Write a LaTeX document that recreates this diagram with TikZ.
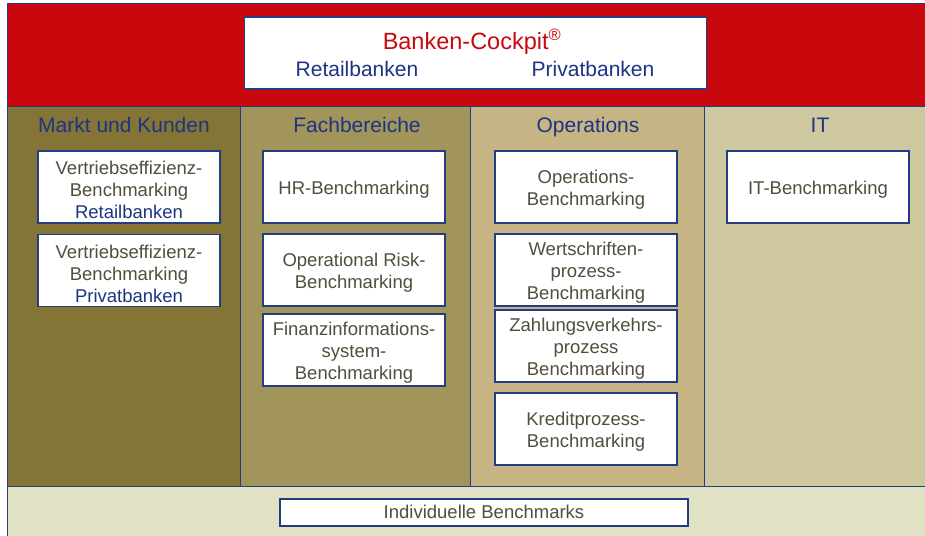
\documentclass[tikz,border=0pt]{standalone}
\usepackage{fontspec}
\setmainfont{Liberation Sans}
\definecolor{bred}{RGB}{200,8,12}
\definecolor{cola}{RGB}{132,117,55}
\definecolor{colb}{RGB}{161,149,92}
\definecolor{colc}{RGB}{199,180,132}
\definecolor{cold}{RGB}{205,200,160}
\definecolor{cole}{RGB}{225,225,195}
\definecolor{navy}{RGB}{28,52,130}
\definecolor{btext}{RGB}{82,78,60}
\definecolor{bline}{RGB}{35,60,130}
\tikzset{
  frame/.style={draw=bline, line width=0.9pt},
  box/.style={draw=bline, line width=1.1pt, fill=white, minimum width=182pt, minimum height=72pt, inner sep=0pt},
  btxt/.style={align=center, text=btext, inner sep=0pt, font=\fontsize{18.5}{22}\selectfont},
  head/.style={text=navy, font=\fontsize{21}{24}\selectfont, inner sep=0pt, anchor=base},
}
\newcommand\bxnode[3]{\node[box] (#1) at (#2) {};\node[btxt] (#1t) at ([yshift=-3pt]#1.center) {#3};}
\begin{document}
\begin{tikzpicture}[x=1pt,y=-1pt]
\useasboundingbox (0,0) rectangle (925,535);
% bands
\fill[bred] (7,3) rectangle (926,106);
\fill[cola] (7,106) rectangle (240,486);
\fill[colb] (240,106) rectangle (470,486);
\fill[colc] (470,106) rectangle (704,486);
\fill[cold] (704,106) rectangle (926,486);
\fill[cole] (7,486) rectangle (926,536);
\draw[frame] (7,536) -- (7,3) -- (926,3);
\draw[frame] (7,106) -- (926,106);
\draw[frame] (7,486) -- (926,486);
\draw[frame] (240,106) -- (240,486);
\draw[frame] (470,106) -- (470,486);
\draw[frame] (704,106) -- (704,486);
% top box
\node[box, minimum width=462pt, minimum height=72pt] (top) at (475.5,53) {};
\node[text=bred, font=\fontsize{23.5}{26}\selectfont, inner sep=0pt, anchor=base] (title) at (472,49.5) {Banken-Cockpit\textsuperscript{®}};
\node[head] (retail) at (357,76) {Retailbanken};
\node[head] (privat) at (593,76) {Privatbanken};
% headers
\node[head] (h1) at (124,132) {Markt und Kunden};
\node[head] (h2) at (357,132) {Fachbereiche};
\node[head] (h3) at (588,132) {Operations};
\node[head] (h4) at (820,132) {IT};
% column 1
\bxnode{v1}{129,187}{Vertriebseffizienz-\\Benchmarking\\\textcolor{navy}{Retailbanken}}
\bxnode{v2}{129,270.5}{Vertriebseffizienz-\\Benchmarking\\\textcolor{navy}{Privatbanken}}
% column 2
\bxnode{hr}{354,187}{HR-Benchmarking}
\bxnode{risk}{354,270}{Operational Risk-\\Benchmarking}
\bxnode{fin}{354,350}{Finanzinformations-\\system-\\Benchmarking}
% column 3
\bxnode{ops}{586,187}{Operations-\\Benchmarking}
\bxnode{wert}{586,270}{Wertschriften-\\prozess-\\Benchmarking}
\bxnode{zahl}{586,346}{Zahlungsverkehrs-\\prozess\\Benchmarking}
\bxnode{kred}{586,429}{Kreditprozess-\\Benchmarking}
% column 4
\bxnode{it}{818,187}{IT-Benchmarking}
% bottom
\node[box, minimum width=408pt, minimum height=27pt] (ind) at (484,512.5) {};
\node[btxt, anchor=base] (indt) at (484,518) {Individuelle Benchmarks};
\end{tikzpicture}
\end{document}
